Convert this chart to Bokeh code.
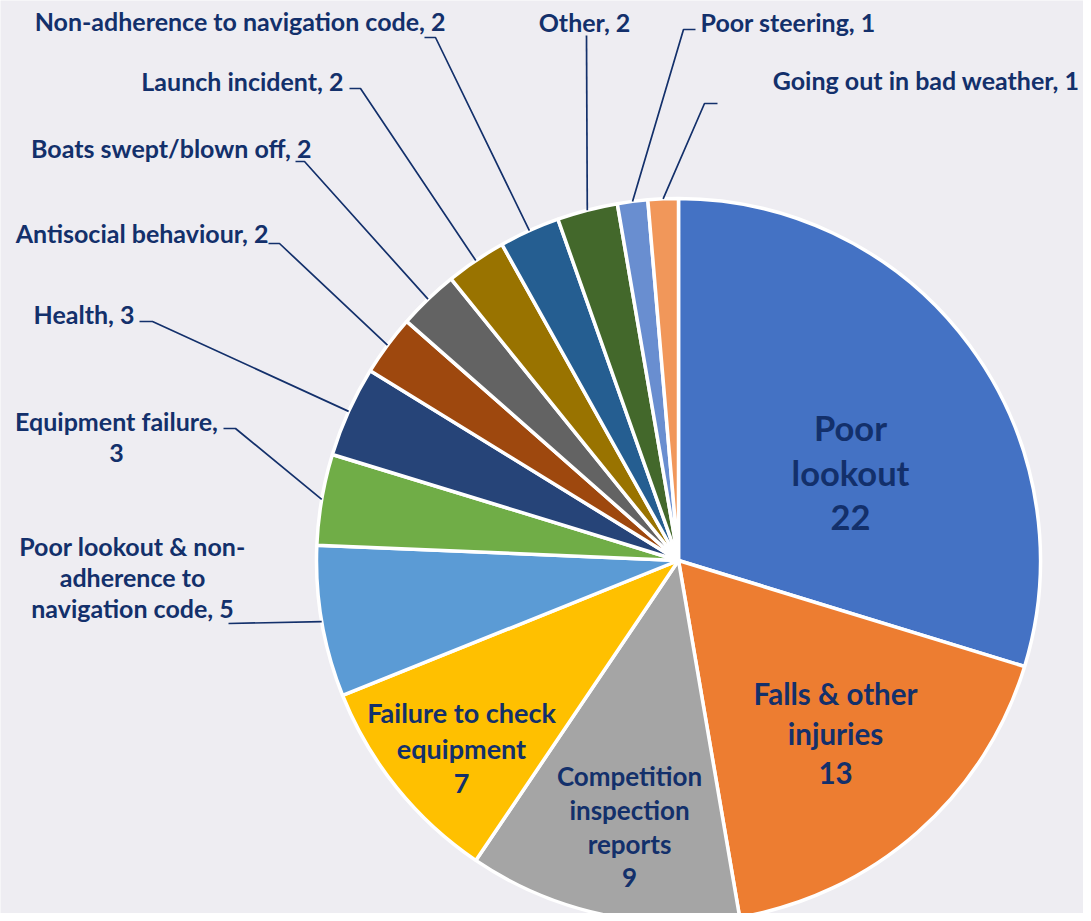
import math
from bokeh.plotting import figure
from bokeh.models import ColumnDataSource, Range1d
from bokeh.core.properties import value
from bokeh.embed import file_html
from bokeh.resources import INLINE

# ---------------- data ----------------
categories = ["Poor lookout", "Falls & other injuries", "Competition inspection reports",
              "Failure to check equipment", "Poor lookout & non-adherence to navigation code",
              "Equipment failure", "Health", "Antisocial behaviour", "Boats swept/blown off",
              "Launch incident", "Non-adherence to navigation code", "Other", "Poor steering",
              "Going out in bad weather"]
values = [22, 13, 9, 7, 5, 3, 3, 2, 2, 2, 2, 2, 1, 1]
colors = ["#4472C4", "#ED7D31", "#A5A5A5", "#FFC000", "#5B9BD5", "#70AD47", "#264478",
          "#9E480E", "#636363", "#997300", "#255E91", "#43682B", "#698ED0", "#F1975A"]

# label line breaks (display text)
inner_lines = [["Poor", "lookout"], ["Falls & other", "injuries"],
               ["Competition", "inspection", "reports"], ["Failure to check", "equipment"]]
outer_lines = {4: ["Poor lookout & non-", "adherence to", "navigation code, {v}"],
               5: ["Equipment failure,", "{v}"]}

# ---------------- layout / style ----------------
W, H = 1083, 913
BG = "#EEEDF2"
TXT = "#13306B"
FONT = "Lato"
CX, CY, R = 678, 560, 362          # reference pixel coordinates

def Y(py):
    return H - py

p = figure(width=W, height=H, output_backend="svg", toolbar_location=None,
           x_range=Range1d(0, W), y_range=Range1d(0, H),
           min_border=0, outline_line_color=None, background_fill_color=BG,
           border_fill_color=BG)
p.xaxis.visible = False
p.yaxis.visible = False
p.grid.visible = False

total = float(sum(values))
starts, ends, mids = [], [], []
cum = 0.0
for v in values:
    a0 = math.pi / 2 - 2 * math.pi * cum / total
    a1 = math.pi / 2 - 2 * math.pi * (cum + v) / total
    starts.append(a1)
    ends.append(a0)
    mids.append((a0 + a1) / 2)
    cum += v

src = ColumnDataSource(dict(start=starts, end=ends, color=colors, cat=categories, val=values))
p.wedge(x=CX, y=Y(CY), radius=R, start_angle="start", end_angle="end",
        fill_color="color", line_color="white", line_width=3.5, source=src)

def text_rows(lines, x, y0, dy, size, align):
    xs, ys, ts = [], [], []
    for i, t in enumerate(lines):
        xs.append(x); ys.append(Y(y0 + i * dy)); ts.append(t)
    p.text(x=xs, y=ys, text=ts, text_font=value(FONT), text_font_style="bold",
           text_font_size=f"{size}px", text_color=TXT, text_align=align,
           text_baseline="middle")

# inner labels: (center x, first line y, line spacing, font size)
inner_pos = [(850, 427, 45, 34.5), (835, 693, 39.5, 29.5), (629, 775, 34, 26), (461, 712, 35.5, 27)]
for i, (x, y0, dy, fs) in enumerate(inner_pos):
    text_rows(inner_lines[i] + [str(values[i])], x, y0, dy, fs, "center")

# outer labels: index -> (x, first y, spacing, align, leader points before wedge point)
OUT_FS = 25
outer_pos = {
    4: (132, 545, 31, "center", [(228, 623)]),
    5: (116, 420, 32, "center", [(223, 428), (235, 428)]),
    6: (134, 313, 0, "right", [(139, 321), (152, 321)]),
    7: (268, 232, 0, "right", [(268, 243), (279, 243)]),
    8: (311, 147, 0, "right", [(295, 161), (304, 161)]),
    9: (343, 80, 0, "right", [(349, 88), (360, 88)]),
    10: (445, 20, 0, "right", [(424, 37), (435, 37)]),
    11: (584, 21, 0, "center", [(586, 35)]),
    12: (700, 21, 0, "left", [(695, 29), (683, 29)]),
    13: (1079, 79, 0, "right", [(717, 103), (704, 103)]),
}
lx, ly = [], []
for i, (x, y0, dy, align, pts) in outer_pos.items():
    if i in outer_lines:
        lines = [s.format(v=values[i]) for s in outer_lines[i]]
    else:
        lines = [f"{categories[i]}, {values[i]}"]
    text_rows(lines, x, y0, dy, OUT_FS, align)
    ex = CX + R * math.cos(mids[i])
    ey = Y(CY) + R * math.sin(mids[i])
    lx.append([px for px, _ in pts] + [ex])
    ly.append([Y(py) for _, py in pts] + [ey])

p.multi_line(xs=lx, ys=ly, line_color=TXT, line_width=1.7)

open("out.html", "w").write(file_html(p, INLINE))
